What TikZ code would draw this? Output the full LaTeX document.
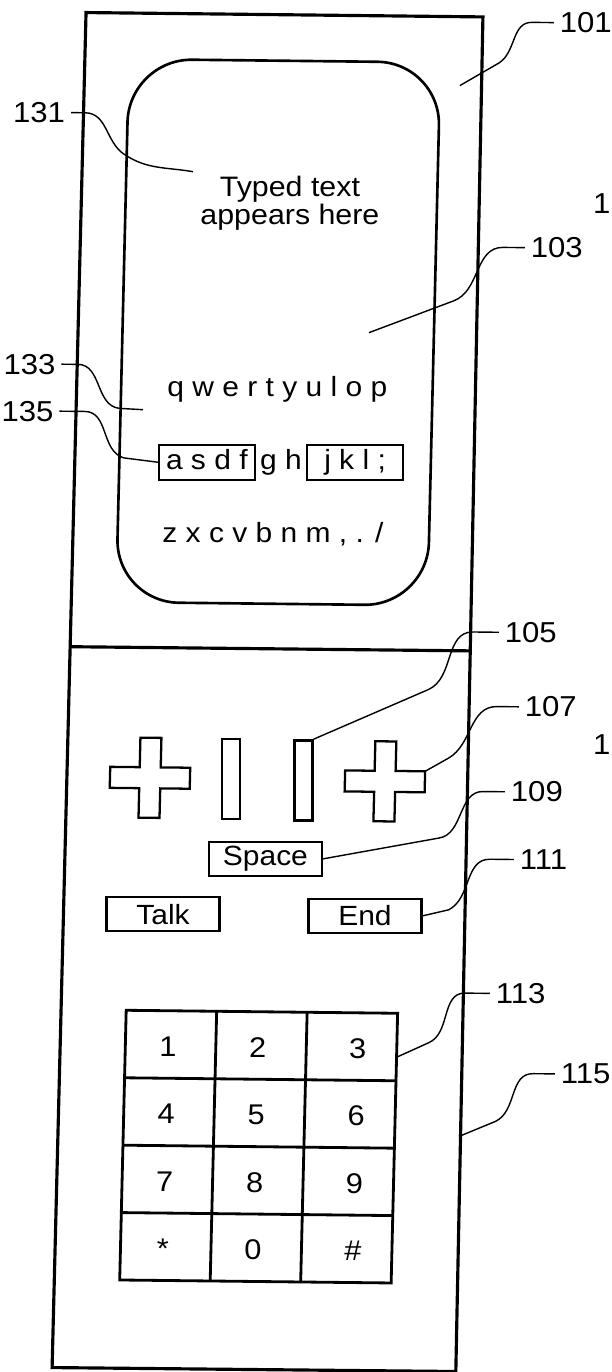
\documentclass[tikz,border=0pt]{standalone}
\usepackage{fontspec}
\setmainfont{Liberation Sans}[FakeStretch=1.08]
\usetikzlibrary{positioning,calc}

\begin{document}
\begin{tikzpicture}[
    frame/.style={line width=0.9pt},
    screen/.style={line width=0.75pt, rounded corners=0.63cm},
    keyline/.style={line width=0.65pt},
    padline/.style={line width=0.8pt},
    leader/.style={line width=0.4pt},
    lbl/.style={font=\fontsize{8.2}{9}\selectfont, inner sep=1.5pt},
    lblr/.style={lbl, anchor=west},
    lbll/.style={lbl, anchor=east},
    keyrow/.style={font=\fontsize{7.9}{9}\selectfont},
    keybox/.style={draw, line width=0.6pt, minimum width=0.96cm, text height=0.2cm, text depth=0.05cm, inner xsep=0pt, inner ysep=0.05cm},
    keycap/.style={draw, line width=0.6pt, minimum width=1.13cm, minimum height=0.34cm, inner sep=0pt, font=\fontsize{7.9}{9}\selectfont},
    bar/.style={draw, line width=0.65pt, minimum width=0.18cm, minimum height=0.8cm, inner sep=0pt},
    padnum/.style={font=\fontsize{8.1}{9}\selectfont, inner sep=0pt}
]

    \useasboundingbox (0,0) rectangle (6.11,13.72);

    % the scanned sheet is a little skewed
    \begin{scope}[xslant=0.024, yslant=-0.011]

    % Define the corners of the housing
    \coordinate (bl) at (0.52,0.05);
    \coordinate (br) at (4.558,0.055);
    \coordinate (tr) at (4.504,13.60);
    \coordinate (tl) at (0.534,13.60);

    % Draw the housing and the fold line
    \draw[frame] (bl) -- (br) -- (tr) -- (tl) -- cycle;
    \draw[frame] ($(bl)!0.532!(tl)$) -- ($(br)!0.532!(tr)$);

    % --- DISPLAY ---
    \draw[screen] (0.975,7.71) rectangle (4.09,13.14);
    \node[font=\fontsize{8}{7.97}\selectfont, align=center, inner sep=0pt] (typed) at (2.619,11.712) {Typed text\\appears here};

    % keyboard rows shown on the display
    \node[keyrow, anchor=base] (row1) at (2.54,9.78) {q w e r t y u l o p};
    \node[keyrow, anchor=base, inner xsep=1pt] (gh) at (2.593,9.051) {g h};
    \node[keyrow, keybox, base left=0pt of gh] (asdf) {a s d f};
    \node[keyrow, keybox, base right=0pt of gh] (jkl) {j k l ;};
    \node[keyrow, anchor=base] (row3) at (2.53,8.32) {z x c v b n m , . /};

    % --- NAVIGATION KEYS ---
    \foreach \cx/\cy in {1.357/5.957, 3.707/5.947}
        \draw[keyline] (\cx,\cy) ++(-0.4,0.105) -- ++(0.295,0) -- ++(0,0.295) -- ++(0.21,0)
            -- ++(0,-0.295) -- ++(0.295,0) -- ++(0,-0.21) -- ++(-0.295,0) -- ++(0,-0.295)
            -- ++(-0.21,0) -- ++(0,0.295) -- ++(-0.295,0) -- cycle;
    \node[bar] (barL) at (2.167,5.955) {};
    \node[bar] (barR) at (2.892,5.948) {};

    \node[keycap] (space) at (2.531,5.159) {Space};
    \node[keycap] (talk) at (1.52,4.593) {Talk};
    \node[keycap] (end) at (3.54,4.60) {End};

    % --- KEYPAD ---
    \draw[padline] (1.175,0.933) rectangle (3.89,3.63);
    \foreach \i in {1,2}
        \draw[padline] ({1.175+0.905*\i},0.933) -- ({1.175+0.905*\i},3.63);
    \foreach \j in {1,2,3}
        \draw[padline] (1.175,{0.933+0.674*\j}) -- (3.89,{0.933+0.674*\j});
    \foreach \a/\b/\c [count=\r] in {1/2/3, 4/5/6, 7/8/9, */0/\#} {
        \node[padnum] (k\r a) at (1.60,{3.61-0.674*(\r-0.5)}) {\a};
        \node[padnum] (k\r b) at (2.50,{3.61-0.674*(\r-0.5)}) {\b};
        \node[padnum] (k\r c) at (3.50,{3.61-0.674*(\r-0.5)}) {\c};
    }

    % points the leaders run to
    \coordinate (p101) at (4.29,12.911);
    \coordinate (p103) at (3.44,10.431);
    \coordinate (p131) at (1.6415,12.021);
    \coordinate (p133) at (1.199,9.636);
    \coordinate (p107) at (4.107,6.052);
    \coordinate (p113) at (3.89,3.19);
    \coordinate (p115) at ($(br)!0.174!(tr)$);

    % --- REFERENCE NUMERALS ---
    \node[lblr] (l101) at (5.215,13.551) {101};
    \node[lblr] (l103) at (4.979,11.298) {103};
    \node[lbll] (l131) at (0.408,12.598) {131};
    \node[lbll] (l133) at (0.373,10.082) {133};
    \node[lbll] (l135) at (0.364,9.612) {135};
    \node[lblr] (l105) at (4.811,7.45) {105};
    \node[lblr] (l107) at (5.029,6.707) {107};
    \node[lblr] (l109) at (4.91,5.856) {109};
    \node[lblr] (l111) at (5.016,5.18) {111};
    \node[lblr] (l113) at (4.808,3.839) {113};
    \node[lblr] (l115) at (5.477,3.041) {115};

    % numerals at the sheet edge
    \node[lblr, inner sep=0pt] (cut1) at (5.643,11.746) {1};
    \node[lblr, inner sep=0pt] (cut2) at (5.773,6.337) {1};

    % leaders
    \draw[leader] (l101.west) -- ++(-0.22,0) to[out=180,in=33] ++(-0.32,-0.41) -- (p101);
    \draw[leader] (l103.west) -- ++(-0.22,0) to[out=180,in=21] ++(-0.48,-0.54) -- (p103);
    \draw[leader] (l131.east) -- ++(0.14,0) to[out=0,in=147] ++(0.40,-0.41) to[out=-33,in=171] (p131);
    \draw[leader] (l133.east) -- ++(0.165,0) to[out=0,in=173] ++(0.42,-0.435) -- (p133);
    \draw[leader] (l135.east) -- ++(0.255,0) to[out=0,in=165] ++(0.40,-0.46) -- (asdf.west);
    \draw[leader] (l105.west) -- ++(-0.26,0) to[out=180,in=25] ++(-0.43,-0.58) -- (barR.north east);
    \draw[leader] (l107.west) -- ++(-0.22,0) to[out=180,in=31] ++(-0.47,-0.52) -- (p107);
    \draw[leader] (l109.west) -- ++(-0.22,0) to[out=180,in=9] ++(-0.43,-0.47) -- (space.east);
    \draw[leader] (l111.west) -- ++(-0.24,0) to[out=180,in=28] ++(-0.40,-0.51) -- (end.east);
    \draw[leader] (l113.west) -- ++(-0.25,0) to[out=180,in=24] ++(-0.35,-0.50) -- (p113);
    \draw[leader] (l115.west) -- ++(-0.22,0) to[out=180,in=27] ++(-0.36,-0.48) -- (p115);

    \end{scope}

\end{tikzpicture}
\end{document}
